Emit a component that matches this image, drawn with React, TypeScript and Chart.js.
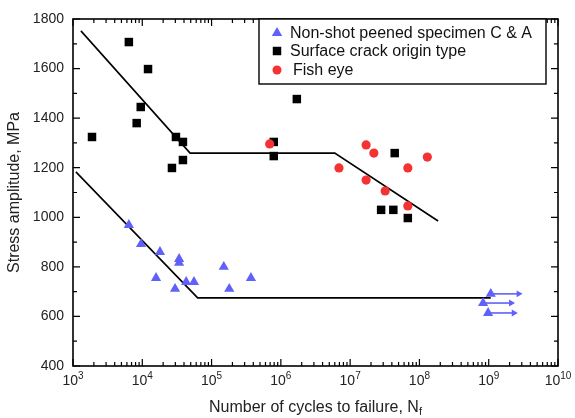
import React, { useEffect, useRef } from "react";
import { Chart, registerables } from "chart.js";

Chart.register(...registerables);

const xTickExponents = [3, 4, 5, 6, 7, 8, 9, 10];
const yTickValues = [400, 600, 800, 1000, 1200, 1400, 1600, 1800];

const nonShotX = [6400, 9600, 18000, 15800, 34000, 34000, 29700, 43000, 55700, 150000, 180000, 370000, 1.07e9, 8.3e8, 9.8e8];
const nonShotY = [969, 892, 860, 755, 832, 816, 711, 739, 739, 800, 711, 755, 691, 654, 614];

const surfaceX = [1880, 6400, 12100, 9500, 8300, 30600, 38600, 38600, 26800, 1.7e6, 7.9e5, 7.9e5, 4.4e7, 2.8e7, 4.2e7, 6.8e7];
const surfaceY = [1324, 1707, 1598, 1445, 1380, 1324, 1304, 1231, 1199, 1477, 1304, 1247, 1259, 1030, 1030, 997];

const fishEyeX = [6.9e5, 1.7e7, 2.2e7, 6.9e6, 1.7e7, 3.2e7, 6.8e7, 1.3e8, 6.8e7];
const fishEyeY = [1296, 1292, 1259, 1199, 1150, 1106, 1199, 1243, 1046];

const upperLineX = [1300, 49000, 6.0e6, 1.86e8];
const upperLineY = [1752, 1259, 1259, 985];

const lowerLineX = [1100, 63000, 1.07e9];
const lowerLineY = [1183, 675, 675];

// run-out arrows: start x, end x, level
const arrowStartX = [1.07e9, 8.3e8, 9.8e8];
const arrowEndX = [2.7e9, 2.1e9, 2.3e9];
const arrowY = [691, 654, 614];

const legendLabels = ["Non-shot peened specimen C & A", "Surface crack origin type", "Fish eye"];

const BLUE = "rgb(96,96,250)";
const RED = "rgb(245,50,50)";
const FONT = "Liberation Sans, Arial, sans-serif";

const pts = (xs: number[], ys: number[]) => xs.map((x, i) => ({ x, y: ys[i] }));

function drawMarker(ctx: CanvasRenderingContext2D, style: string, x: number, y: number, r: number, color: string) {
  ctx.fillStyle = color;
  ctx.beginPath();
  if (style === "triangle") {
    ctx.moveTo(x, y - r);
    ctx.lineTo(x + r * 0.866, y + r * 0.5);
    ctx.lineTo(x - r * 0.866, y + r * 0.5);
    ctx.closePath();
  } else if (style === "rect") {
    const s = r * Math.SQRT1_2;
    ctx.rect(x - s, y - s, 2 * s, 2 * s);
  } else {
    ctx.arc(x, y, r, 0, Math.PI * 2);
  }
  ctx.fill();
}

const framePlugin = {
  id: "frame",
  afterDatasetsDraw(chart: any) {
    const { ctx, chartArea: a, scales } = chart;
    const xs = scales.x;
    const ys = scales.y;
    ctx.save();
    ctx.strokeStyle = "#000";
    ctx.lineWidth = 1.6;
    ctx.strokeRect(a.left, a.top, a.right - a.left, a.bottom - a.top);
    ctx.lineWidth = 1.2;
    ctx.beginPath();
    for (let e = 3; e <= 10; e++) {
      const px = xs.getPixelForValue(Math.pow(10, e));
      ctx.moveTo(px, a.bottom); ctx.lineTo(px, a.bottom - 7);
      ctx.moveTo(px, a.top); ctx.lineTo(px, a.top + 7);
      if (e < 10) {
        for (let m = 2; m <= 9; m++) {
          const p = xs.getPixelForValue(m * Math.pow(10, e));
          ctx.moveTo(p, a.bottom); ctx.lineTo(p, a.bottom - 4);
          ctx.moveTo(p, a.top); ctx.lineTo(p, a.top + 4);
        }
      }
    }
    for (let v = 400; v <= 1800; v += 100) {
      const py = ys.getPixelForValue(v);
      const len = v % 200 === 0 ? 7 : 4;
      ctx.moveTo(a.left, py); ctx.lineTo(a.left + len, py);
      ctx.moveTo(a.right, py); ctx.lineTo(a.right - len, py);
    }
    ctx.stroke();

    // y tick labels
    ctx.fillStyle = "#222";
    ctx.font = `14px ${FONT}`;
    ctx.textAlign = "right";
    ctx.textBaseline = "middle";
    yTickValues.forEach((v) => {
      ctx.fillText(String(v), a.left - 9, ys.getPixelForValue(v));
    });
    // x tick labels
    xTickExponents.forEach((e) => {
      const px = xs.getPixelForValue(Math.pow(10, e));
      ctx.font = `14px ${FONT}`;
      const w1 = ctx.measureText("10").width;
      ctx.font = `10px ${FONT}`;
      const w2 = ctx.measureText(String(e)).width;
      const start = px - (w1 + w2) / 2;
      ctx.textAlign = "left";
      ctx.textBaseline = "alphabetic";
      ctx.font = `14px ${FONT}`;
      ctx.fillText("10", start, a.bottom + 19);
      ctx.font = `10px ${FONT}`;
      ctx.fillText(String(e), start + w1, a.bottom + 13);
    });
    // axis titles
    ctx.font = `16px ${FONT}`;
    const t1 = "Number of cycles to failure, N";
    const tw = ctx.measureText(t1).width;
    ctx.font = `11px ${FONT}`;
    const sw = ctx.measureText("f").width;
    const cx = (a.left + a.right) / 2;
    const sx = cx - (tw + sw) / 2;
    ctx.font = `16px ${FONT}`;
    ctx.fillText(t1, sx, a.bottom + 46);
    ctx.font = `11px ${FONT}`;
    ctx.fillText("f", sx + tw, a.bottom + 49);

    ctx.save();
    ctx.translate(15, (a.top + a.bottom) / 2);
    ctx.rotate(-Math.PI / 2);
    ctx.font = `16px ${FONT}`;
    ctx.textAlign = "center";
    ctx.textBaseline = "middle";
    ctx.fillText("Stress amplitude, MPa", 0, 0);
    ctx.restore();

    // legend
    const lx0 = 259, ly0 = a.top, lx1 = 546, ly1 = 84;
    ctx.fillStyle = "#fff";
    ctx.fillRect(lx0, ly0, lx1 - lx0, ly1 - ly0);
    ctx.lineWidth = 1.4;
    ctx.strokeStyle = "#000";
    ctx.strokeRect(lx0, ly0, lx1 - lx0, ly1 - ly0);
    const rows = [33, 51, 70];
    const styles = [
      { style: "triangle", color: BLUE, r: 6 },
      { style: "rect", color: "#000", r: 6 },
      { style: "circle", color: RED, r: 4.5 },
    ];
    rows.forEach((ry, i) => {
      drawMarker(ctx, styles[i].style, 277, ry, styles[i].r, styles[i].color);
      ctx.fillStyle = "#111";
      ctx.font = `16px ${FONT}`;
      ctx.textAlign = "left";
      ctx.textBaseline = "middle";
      ctx.fillText(legendLabels[i], i === 2 ? 293 : 290, ry + 1);
    });
    ctx.restore();
  },
};

export default function App() {
  const ref = useRef<HTMLCanvasElement>(null);
  useEffect(() => {
    if (!ref.current) return;
    const arrowSets = arrowStartX.map((sx, i) => ({
      type: "line" as const,
      data: [{ x: sx, y: arrowY[i] }, { x: arrowEndX[i], y: arrowY[i] }],
      borderColor: BLUE,
      backgroundColor: BLUE,
      borderWidth: 1.6,
      pointRadius: [0, 4],
      pointStyle: "triangle",
      rotation: 90,
      pointBorderWidth: 0,
      showLine: true,
      order: 2,
    }));
    const chart = new Chart(ref.current, {
      type: "scatter",
      data: {
        datasets: [
          {
            type: "line",
            data: pts(upperLineX, upperLineY),
            borderColor: "#000",
            borderWidth: 1.6,
            pointRadius: 0,
            showLine: true,
            order: 5,
          } as any,
          {
            type: "line",
            data: pts(lowerLineX, lowerLineY),
            borderColor: "#000",
            borderWidth: 1.6,
            pointRadius: 0,
            showLine: true,
            order: 5,
          } as any,
          ...arrowSets,
          {
            data: pts(surfaceX, surfaceY),
            pointStyle: "rect",
            pointRadius: 6,
            backgroundColor: "#000",
            borderWidth: 0,
            order: 1,
          },
          {
            data: pts(fishEyeX, fishEyeY),
            pointStyle: "circle",
            pointRadius: 4.6,
            backgroundColor: RED,
            borderWidth: 0,
            order: 0,
          },
          {
            data: pts(nonShotX, nonShotY),
            pointStyle: "triangle",
            pointRadius: 5.9,
            backgroundColor: BLUE,
            borderWidth: 0,
            order: 0,
          },
        ] as any,
      },
      options: {
        animation: false,
        responsive: false,
        maintainAspectRatio: false,
        layout: { padding: { left: 73, right: 17, top: 19, bottom: 52 } },
        plugins: { legend: { display: false }, tooltip: { enabled: false } },
        scales: {
          x: { type: "logarithmic", min: 1e3, max: 1e10, display: false },
          y: { type: "linear", min: 400, max: 1800, display: false },
        },
      },
      plugins: [framePlugin],
    });
    return () => chart.destroy();
  }, []);
  return (
    <div style={{ position: "fixed", left: 0, top: 0, width: 575, height: 418, background: "#fff" }}>
      <canvas ref={ref} width={575} height={418} style={{ width: 575, height: 418 }} />
    </div>
  );
}
